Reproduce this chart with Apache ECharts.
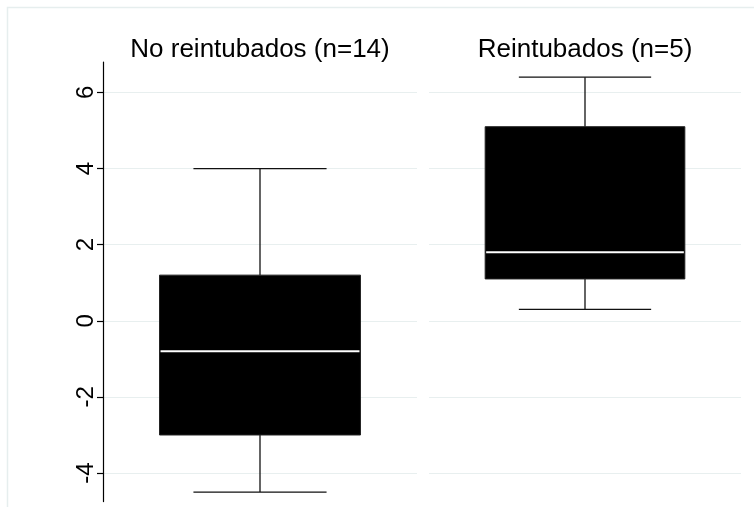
<!DOCTYPE html>
<html>
<head>
<meta charset="utf-8">
<script src="https://cdn.jsdelivr.net/npm/echarts@6/dist/echarts.min.js"></script>
<style>
  html, body { margin: 0; padding: 0; background: #fff; }
  #boxChart { width: 754px; height: 507px; }
</style>
</head>
<body>
<div id="boxChart"></div>
<script>
// grupos y estadisticos
const groups = ['No reintubados (n=14)', 'Reintubados (n=5)']
const lowWhisker = [-4.5, 0.3]
const q1 = [-3.0, 1.1]
const median = [-0.8, 1.8]
const q3 = [1.2, 5.1]
const highWhisker = [4.0, 6.4]
const yTicks = [-4, -2, 0, 2, 4, 6]

const yMin = -4.75
const yMax = 6.8
const font = 'Liberation Sans, Arial, sans-serif'

function renderBox(params, api) {
  const x = api.value(0)
  const band = api.size([1, 0])[0]
  const boxW = band * 0.64
  const capW = band * 0.424
  const lo = api.coord([x, api.value(1)])
  const b1 = api.coord([x, api.value(2)])
  const md = api.coord([x, api.value(3)])
  const b3 = api.coord([x, api.value(4)])
  const hi = api.coord([x, api.value(5)])
  const cx = lo[0]
  const line = { stroke: '#111', lineWidth: 1.3 }
  return {
    type: 'group',
    children: [
      { type: 'line', shape: { x1: cx, y1: hi[1], x2: cx, y2: b3[1] }, style: line },
      { type: 'line', shape: { x1: cx, y1: b1[1], x2: cx, y2: lo[1] }, style: line },
      { type: 'line', shape: { x1: cx - capW / 2, y1: hi[1], x2: cx + capW / 2, y2: hi[1] }, style: line },
      { type: 'line', shape: { x1: cx - capW / 2, y1: lo[1], x2: cx + capW / 2, y2: lo[1] }, style: line },
      { type: 'rect', shape: { x: cx - boxW / 2, y: b3[1], width: boxW, height: b1[1] - b3[1] },
        style: { fill: '#000', stroke: '#222', lineWidth: 1 } },
      { type: 'line', shape: { x1: cx - boxW / 2 + 1, y1: md[1], x2: cx + boxW / 2 - 1, y2: md[1] },
        style: { stroke: '#fff', lineWidth: 2 } }
    ]
  }
}

const chart = echarts.init(document.getElementById('boxChart'), null, { renderer: 'canvas' })

const grids = [
  { left: 103, top: 62, width: 314, height: 439.6 },
  { left: 429, top: 62, width: 312, height: 439.6 }
]

const xAxes = groups.map((g, i) => ({
  type: 'category',
  gridIndex: i,
  data: [g],
  position: 'top',
  axisLine: { show: false },
  axisTick: { show: false },
  splitLine: { show: false },
  axisLabel: { show: true, color: '#000', fontFamily: font, fontSize: 26, margin: -1 }
}))

const yAxes = groups.map((g, i) => ({
  type: 'value',
  gridIndex: i,
  min: yMin,
  max: yMax,
  axisLine: { show: i === 0, lineStyle: { color: '#000', width: 1.2 } },
  axisTick: { show: i === 0, length: 6, customValues: yTicks, lineStyle: { color: '#000', width: 1.2 } },
  axisLabel: {
    show: i === 0, customValues: yTicks, rotate: 90, margin: 5,
    color: '#000', fontFamily: font, fontSize: 24
  },
  splitLine: { show: true, lineStyle: { color: '#e8efef', width: 1 } }
}))

const series = groups.map((g, i) => ({
  type: 'custom',
  xAxisIndex: i,
  yAxisIndex: i,
  renderItem: renderBox,
  encode: { x: 0, y: [1, 2, 3, 4, 5] },
  data: [[0, lowWhisker[i], q1[i], median[i], q3[i], highWhisker[i]]],
  silent: true
}))

chart.setOption({
  backgroundColor: '#fff',
  animation: false,
  graphic: [
    { type: 'rect', shape: { x: 7.5, y: 7.5, width: 800, height: 600 },
      style: { fill: 'none', stroke: '#e6eeee', lineWidth: 1.5 }, silent: true }
  ],
  grid: grids,
  xAxis: xAxes,
  yAxis: yAxes,
  series: series
})
</script>
</body>
</html>
